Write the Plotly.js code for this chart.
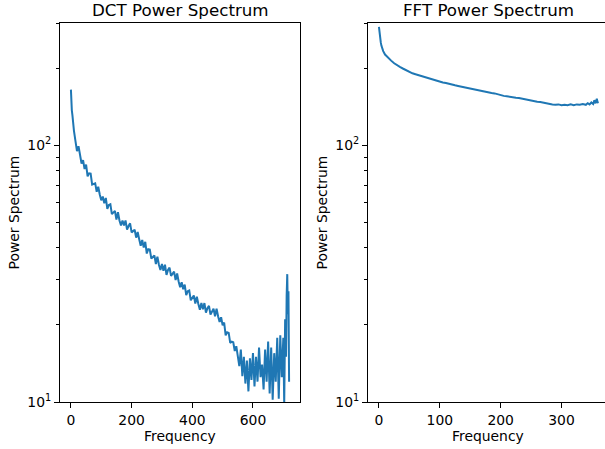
<!DOCTYPE html>
<html>
<head>
<meta charset="utf-8">
<script src="https://cdn.plot.ly/plotly-3.0.1.min.js"></script>
<style>
html, body { margin: 0; padding: 0; overflow: hidden; background: #fff; }
#chart { width: 610px; height: 449px; }
</style>
</head>
<body>
<div id="chart"></div>
<script>
// DCT power spectrum (frequency index, power)
const dctFreq = [0,1,2,3,5,7,10,15,20,25,30,35,40,45,50,55,60,65,70,75,80,85,90,95,100,105,110,115,120,125,130,135,140,145,150,155,160,165,170,175,180,185,190,195,200,205,210,215,220,225,230,235,240,245,250,255,260,265,270,275,280,285,290,295,300,305,310,315,320,325,330,335,340,345,350,355,360,365,370,375,380,385,390,395,400,405,410,415,420,425,430,435,440,445,450,455,460,465,470,475,480,485,490,495,500,505,510,515,520,525,530,535,540,545,550,555,560,565,570,575,580,585,590,595,600,605,610,615,620,625,630,635,640,645,650,655,660,665,670,675,680,685,690,695,700,703,706,709,711,713,715,717,719];
const dctPower = [165,150,147,137,131,120,114,104,95,99.3,90,85,87.7,80.9,84.2,75.8,77.8,77.6,70.4,71,71.1,66,69,64.4,61.1,63.2,59.5,62.4,56.6,58.6,59,54,55,55.6,51.4,54.9,51,48.7,51,48.8,51,47,48.5,49.7,45.8,46.5,46.9,43.7,46,43.1,40.6,42.8,40,42.1,37.9,39.4,39.3,36.2,36.7,37.3,34.5,36.8,34.3,32.7,34.5,32.5,34.3,31.3,32.7,33.4,31,31.8,32.2,29.9,31.7,29.5,28,29.3,27.5,28.7,26.1,27,27.2,24.9,25.5,26,24.2,25.7,24.1,22.9,24.3,23,24.3,22.3,23.2,23.7,21.9,22.5,23.1,21.6,23.1,21.6,20.5,21.4,19.9,20.4,18.2,18.7,18.6,17,17.2,17.1,15.8,16.5,15,13.8,16,12.6,15,11.8,14.5,11,14.8,12.2,15.5,11.5,15,12,16.3,12.5,14,11.2,16,12,17.2,10.8,16.3,10.2,15.5,12,17.8,10.3,18.2,12.5,17.8,9.8,21,15,26,31.5,22,27,12];

// FFT power spectrum (frequency index, power)
const fftFreq = [0,1,2,3,4,5,7,10,13,16,20,25,30,35,40,45,50,55,60,65,70,75,80,85,90,95,100,105,110,115,120,125,130,135,140,145,150,155,160,165,170,175,180,185,190,195,200,205,210,215,220,225,230,235,240,245,250,255,260,265,270,275,280,285,290,295,300,305,310,315,320,325,330,335,340,343,346,349,352,354,356,358,359,360];
const fftPower = [290,272,262,252,245,240,233,226,222,219,214,209,205,202,199,196,194,191,189.5,188,186,184,183,181,180,178,177.5,176,175,173.5,173,171.5,170.5,169.5,168,167.5,166.5,165.5,164.5,164,163,162,161,160,159.5,158,157,156,155.5,154.5,154,153.5,153,152,151.5,151,150,149,148,147.5,146.5,146,145,144.5,144,144.5,143.5,144,143.5,144.5,143.5,144.5,144,145,144,146,144.5,147,145,150,146,152,148,146];

const yTickVals = [10, 100];
const yTickText = ['10<sup>1</sup>', '10<sup>2</sup>'];
const yMinorVals = [20, 30, 40, 50, 60, 70, 80, 90, 200, 300];
const dctXTicks = [0, 200, 400, 600];
const fftXTicks = [0, 100, 200, 300];

const blue = '#1f77b4';
const font = 'DejaVu Sans, sans-serif';

const traces = [
  { x: dctFreq, y: dctPower, type: 'scatter', mode: 'lines', line: { color: blue, width: 2 }, xaxis: 'x', yaxis: 'y', hoverinfo: 'skip' },
  { x: fftFreq, y: fftPower, type: 'scatter', mode: 'lines', line: { color: blue, width: 2 }, xaxis: 'x2', yaxis: 'y2', hoverinfo: 'skip' }
];

function xAxis(domain, range, ticks, anchor) {
  return {
    domain: domain, range: range, anchor: anchor,
    showline: true, mirror: true, linecolor: '#000', linewidth: 1,
    ticks: 'outside', ticklen: 5, tickwidth: 1, tickcolor: '#000',
    tickmode: 'array', tickvals: ticks,
    showgrid: false, zeroline: false,
    tickfont: { family: font, size: 13.9, color: '#000' }
  };
}
function yAxis(anchor) {
  return {
    type: 'log', range: [1, Math.log10(300)], anchor: anchor,
    showline: true, mirror: true, linecolor: '#000', linewidth: 1,
    ticks: 'outside', ticklen: 5, tickwidth: 1, tickcolor: '#000',
    tickmode: 'array', tickvals: yTickVals, ticktext: yTickText,
    minor: { tickmode: 'array', tickvals: yMinorVals, ticks: 'outside', ticklen: 3, tickwidth: 1, tickcolor: '#000', showgrid: false },
    showgrid: false, zeroline: false,
    tickfont: { family: font, size: 13.9, color: '#000' }
  };
}

const ann = (text, x, y, size, angle) => ({
  text: text, x: x, y: y, xref: 'paper', yref: 'paper', showarrow: false,
  xanchor: 'center', yanchor: 'middle', textangle: angle || 0,
  font: { family: font, size: size, color: '#000' }
});

const layout = {
  width: 610, height: 449,
  margin: { l: 60, r: 1, t: 23, b: 47 },
  paper_bgcolor: '#fff', plot_bgcolor: '#fff',
  showlegend: false,
  xaxis: xAxis([0, 240 / 549], [-36, 755], dctXTicks, 'y'),
  yaxis: yAxis('x'),
  xaxis2: xAxis([308 / 549, 1], [-18, 378], fftXTicks, 'y2'),
  yaxis2: yAxis('x2'),
  annotations: [
    ann('DCT Power Spectrum', 0.2186, 1.034, 16.7),
    ann('FFT Power Spectrum', 0.7805, 1.034, 16.7),
    ann('Frequency', 0.2186, -0.0897, 13.9),
    ann('Frequency', 0.7805, -0.0897, 13.9),
    ann('Power Spectrum', -0.0838, 0.5, 13.9, -90),
    ann('Power Spectrum', 0.4772, 0.5, 13.9, -90)
  ]
};

Plotly.newPlot('chart', traces, layout, { staticPlot: true, displayModeBar: false });
</script>
</body>
</html>
